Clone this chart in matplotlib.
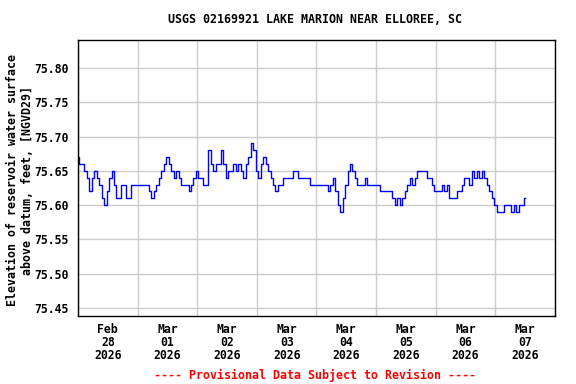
import numpy as np
import pandas as pd
import matplotlib
matplotlib.use("Agg")
import matplotlib.pyplot as plt
import matplotlib.dates as mdates

plt.rcParams['font.family'] = ['DejaVu Sans Mono']
plt.rcParams['font.weight'] = 'bold'

# hourly lake elevation readings, feet
feb28 = [75.67, 75.66, 75.66, 75.65, 75.64, 75.62, 75.64, 75.65, 75.64, 75.63, 75.61, 75.60,
         75.62, 75.64, 75.65, 75.63, 75.61, 75.61, 75.63, 75.63, 75.61, 75.61, 75.63, 75.63]
mar01 = [75.63, 75.63, 75.63, 75.63, 75.63, 75.62, 75.61, 75.62, 75.63, 75.64, 75.65, 75.66,
         75.67, 75.66, 75.65, 75.64, 75.65, 75.64, 75.63, 75.63, 75.63, 75.62, 75.63, 75.64]
mar02 = [75.65, 75.64, 75.64, 75.63, 75.63, 75.68, 75.66, 75.65, 75.66, 75.66, 75.68, 75.66,
         75.64, 75.65, 75.65, 75.66, 75.65, 75.66, 75.65, 75.64, 75.66, 75.67, 75.69, 75.68]
mar03 = [75.65, 75.64, 75.66, 75.67, 75.66, 75.65, 75.64, 75.63, 75.62, 75.63, 75.63, 75.64,
         75.64, 75.64, 75.64, 75.65, 75.65, 75.64, 75.64, 75.64, 75.64, 75.64, 75.63, 75.63]
mar04 = [75.63, 75.63, 75.63, 75.63, 75.63, 75.62, 75.63, 75.64, 75.62, 75.60, 75.59, 75.61,
         75.63, 75.65, 75.66, 75.65, 75.64, 75.63, 75.63, 75.63, 75.64, 75.63, 75.63, 75.63]
mar05 = [75.63, 75.63, 75.62, 75.62, 75.62, 75.62, 75.62, 75.61, 75.60, 75.61, 75.60, 75.61,
         75.62, 75.63, 75.64, 75.63, 75.64, 75.65, 75.65, 75.65, 75.65, 75.64, 75.64, 75.63]
mar06 = [75.62, 75.62, 75.62, 75.63, 75.62, 75.63, 75.61, 75.61, 75.61, 75.62, 75.62, 75.63,
         75.64, 75.64, 75.63, 75.65, 75.64, 75.65, 75.64, 75.65, 75.64, 75.63, 75.62, 75.61]
mar07 = [75.60, 75.59, 75.59, 75.59, 75.60, 75.60, 75.60, 75.59, 75.60, 75.59, 75.60, 75.60,
         75.61]

values = feb28 + mar01 + mar02 + mar03 + mar04 + mar05 + mar06 + mar07
times = pd.date_range("2026-02-28 00:00", periods=len(values), freq="h")

yticks = [75.45, 75.50, 75.55, 75.60, 75.65, 75.70, 75.75, 75.80]

fig = plt.figure(figsize=(5.76, 3.84), dpi=100)
ax = fig.add_axes([0.1354, 0.1771, 0.828, 0.7187])

ax.plot(times, values, color='#0000ff', lw=1, drawstyle='steps-mid')

ax.set_xlim(pd.Timestamp("2026-02-28"), pd.Timestamp("2026-03-08"))
ax.set_ylim(75.438, 75.841)
ax.set_yticks(yticks)
ax.set_yticklabels(['%.2f' % v for v in yticks])

ax.xaxis.set_major_locator(mdates.HourLocator(byhour=12))
ax.xaxis.set_major_formatter(mdates.DateFormatter('%b\n%d\n%Y'))
ax.xaxis.set_minor_locator(mdates.DayLocator())

ax.grid(False)
ax.grid(axis='x', which='minor', color='#cccccc', lw=1)
ax.grid(axis='y', which='major', color='#cccccc', lw=1)
ax.set_axisbelow(True)

ax.tick_params(axis='both', which='both', length=0, labelsize=8.3)
ax.tick_params(axis='y', pad=7)
ax.tick_params(axis='x', pad=5)
for s in ax.spines.values():
    s.set_linewidth(1)
    s.set_color('black')

fig.canvas.draw()
for lbl in ax.get_xticklabels():
    lbl.set_linespacing(1.0)

fig.text(0.547, 0.948, 'USGS 02169921 LAKE MARION NEAR ELLOREE, SC',
         ha='center', va='center', fontsize=8.4, fontweight='bold')
fig.text(0.035, 0.53, 'Elevation of reservoir water surface\nabove datum, feet, [NGVD29]',
         ha='center', va='center', rotation=90, fontsize=8.4, fontweight='bold',
         linespacing=1.15)
fig.text(0.547, 0.023, '---- Provisional Data Subject to Revision ----',
         ha='center', va='center', fontsize=8.4, fontweight='bold', color='red')

fig.savefig('out.png', dpi=100)
